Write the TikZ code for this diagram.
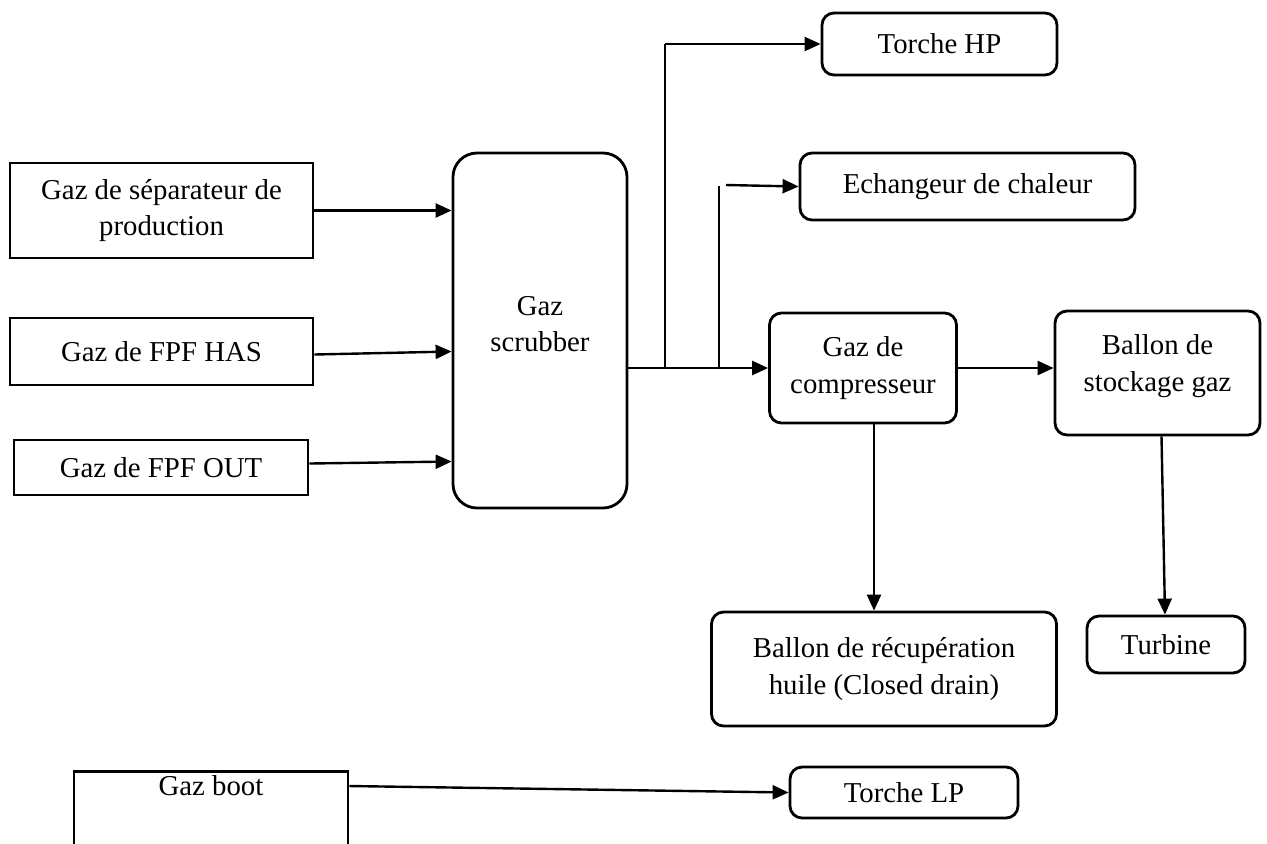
\documentclass[tikz,border=0pt]{standalone}
\usepackage{fontspec}
\setmainfont{Liberation Serif}
\usetikzlibrary{arrows.meta,calc}
\tikzset{
  sqbox/.style={draw, line width=1.4pt, rectangle, inner sep=0pt, align=center},
  rdbox/.style={draw, line width=1.4pt, rectangle, rounded corners=6pt, inner sep=0pt, align=center},
  txt/.style={inner sep=0pt, align=center},
  arr/.style={line width=1.2pt, -{Triangle[length=8pt,width=7pt]}},
  thinline/.style={line width=0.8pt},
}
\begin{document}
\begin{tikzpicture}[x=0.5pt,y=-0.5pt,font=\fontsize{14.4}{18.3}\selectfont]
\clip (0,0) rectangle (1267,843);
\fill[white] (0,0) rectangle (1267,843);

% left inputs
\node[sqbox, minimum width=151.5pt, minimum height=47.5pt] (sep) at (161.5,210.5) {Gaz de séparateur de\\production};
\node[sqbox, minimum width=151.5pt, minimum height=33.5pt] (has) at (161.5,351.5) {Gaz de FPF HAS};
\node[sqbox, minimum width=147pt, minimum height=27.5pt] (out) at (161,467.5) {Gaz de FPF OUT};

% scrubber
\node[rdbox, rounded corners=12pt, minimum width=87pt, minimum height=177.5pt] (scrub) at (540,330.5) {};
\node[txt] (scrubtxt) at (540,324) {Gaz\\scrubber};

% right side
\node[rdbox, minimum width=117.5pt, minimum height=31pt] (thp) at (939.5,44) {Torche HP};
\node[rdbox, minimum width=167.5pt, minimum height=33.5pt] (ech) at (967.5,186.5) {Echangeur de chaleur};
\node[rdbox, minimum width=93.5pt, minimum height=55pt] (comp) at (863,368) {Gaz de\\compresseur};
\node[rdbox, minimum width=102.5pt, minimum height=62pt] (stock) at (1157.5,373) {};
\node[txt] (stocktxt) at (1157.5,366) {Ballon de\\stockage gaz};
\node[rdbox, minimum width=172.5pt, minimum height=57pt] (recup) at (884,669) {Ballon de récupération\\huile (Closed drain)};
\node[rdbox, minimum width=79pt, minimum height=28.5pt] (turb) at (1166,644.5) {Turbine};

% bottom
\node[sqbox, minimum width=137pt, minimum height=45pt, anchor=north] (boot) at (211,770) {};
\node[txt] (boottxt) at (211,786) {Gaz boot};
\node[rdbox, minimum width=114pt, minimum height=25.5pt] (tlp) at (904,792.5) {Torche LP};

% connectors
\draw[arr] (sep.east) -- (sep.east -| scrub.west);
\draw[arr] ([yshift=-1.5pt]has.east) -- (has.east -| scrub.west);
\draw[arr] ([yshift=2pt]out.east) -- ([yshift=3pt]out.east -| scrub.west);
\draw[arr] (scrub.east |- comp.west) -- (comp.west);

\coordinate (j1) at (665,368);
\draw[thinline] (j1) -- (j1 |- thp.west);
\draw[arr] (j1 |- thp.west) -- (thp.west);

\coordinate (j2) at (719,368);
\draw[thinline] (j2) -- (719,186);
\coordinate (e0) at (726,185);
\draw[arr] (e0) -- (ech.west);

\draw[arr] (comp.east) -- (comp.east -| stock.west);
\coordinate (c1) at (874,0);
\draw[arr] (c1 |- comp.south) -- (c1 |- recup.north);
\draw[arr] ([xshift=2pt]stock.south) -- ([xshift=-0.5pt]turb.north);

\draw[arr] (boottxt -| boot.east) -- (tlp.west);
\end{tikzpicture}
\end{document}
